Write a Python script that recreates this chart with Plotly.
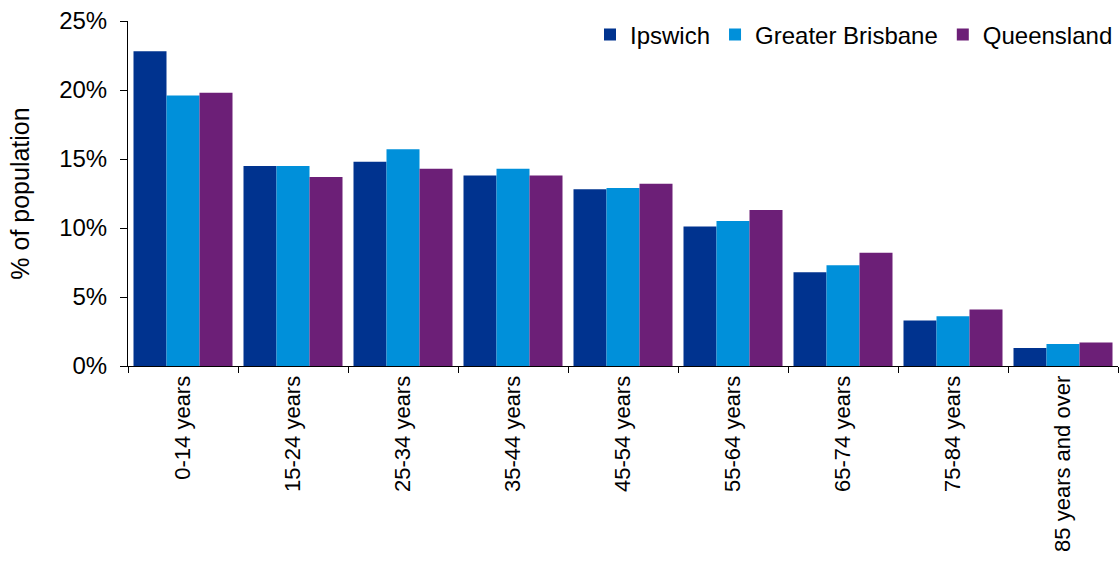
import plotly.graph_objects as go

# Age groups and share of population (%) by region
age_groups = ["0-14 years", "15-24 years", "25-34 years", "35-44 years", "45-54 years",
              "55-64 years", "65-74 years", "75-84 years", "85 years and over"]
ipswich = [22.8, 14.5, 14.8, 13.8, 12.8, 10.1, 6.8, 3.3, 1.3]
greater_brisbane = [19.6, 14.5, 15.7, 14.3, 12.9, 10.5, 7.3, 3.6, 1.6]
queensland = [19.8, 13.7, 14.3, 13.8, 13.2, 11.3, 8.2, 4.1, 1.7]
y_ticks = [0, 5, 10, 15, 20, 25]
y_tick_labels = ["0%", "5%", "10%", "15%", "20%", "25%"]

series = [
    ("Ipswich", ipswich, "#00338f"),
    ("Greater Brisbane", greater_brisbane, "#0090da"),
    ("Queensland", queensland, "#6c1f77"),
]

FONT = "Liberation Sans, Arial, sans-serif"

fig = go.Figure()
for name, vals, color in series:
    fig.add_trace(go.Bar(
        x=age_groups, y=vals, name=name,
        marker=dict(color=color, line=dict(width=0)),
    ))

fig.update_layout(
    width=1120, height=561,
    margin=dict(l=128, r=2, t=21, b=195, autoexpand=False),
    paper_bgcolor="white", plot_bgcolor="white",
    barmode="group", bargap=0.1, bargroupgap=0,
    font=dict(family=FONT, size=22, color="black"),
    showlegend=True,
    legend=dict(
        orientation="h", x=1.0, xanchor="right", y=0.96, yanchor="middle",
        font=dict(family=FONT, size=24, color="black"),
        bgcolor="rgba(0,0,0,0)", traceorder="normal",
    ),
)

fig.update_xaxes(
    type="category", tickangle=-90,
    showline=True, linecolor="black", linewidth=1,
    ticks="outside", tickson="boundaries", ticklen=6, tickcolor="black",
    showgrid=False, zeroline=False, automargin=False,
    tickfont=dict(family=FONT, size=22, color="black"),
)
fig.update_yaxes(
    range=[0, 25], tickmode="array", tickvals=y_ticks, ticktext=y_tick_labels,
    showline=True, linecolor="black", linewidth=1,
    ticks="outside", ticklen=7, tickcolor="black", ticklabelstandoff=8,
    showgrid=False, zeroline=False, automargin=False,
    tickfont=dict(family=FONT, size=24, color="black"),
    title=dict(text="% of population", font=dict(family=FONT, size=25, color="black"), standoff=22),
)

fig.write_html("out.html")
